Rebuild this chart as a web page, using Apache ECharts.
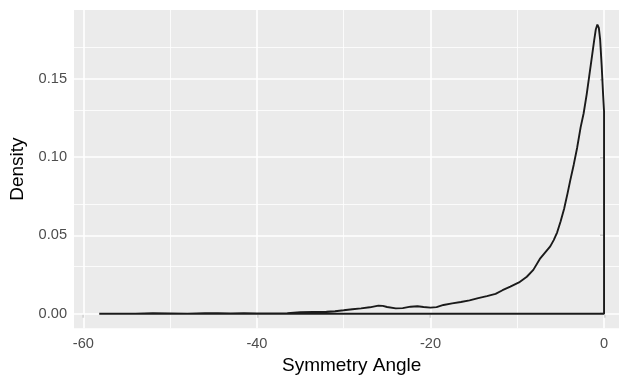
<!DOCTYPE html>
<html>
<head>
<meta charset="utf-8">
<script src="https://cdn.jsdelivr.net/npm/echarts@6/dist/echarts.min.js"></script>
<style>
html,body{margin:0;padding:0;background:#fff;overflow:hidden;}
#c{width:619px;height:377px;}
</style>
</head>
<body>
<div id="c"></div>
<script>
// Density curve (x = symmetry angle, y = density), outline closed along the baseline
const angle = [-58.17,-56,-54,-52,-50,-48,-46,-44.5,-43,-41.5,-40,-38,-36.5,-35,-33.5,-32,-31,-30,-29,-28,-27,-26,-25.5,-25,-24,-23.2,-22.3,-21.5,-20.8,-20,-19.3,-18.5,-17.5,-16.5,-15.5,-14.5,-13.5,-12.5,-11.7,-10.8,-9.8,-8.9,-8.15,-7.4,-6.8,-6.2,-5.8,-5.4,-5.0,-4.6,-4.2,-3.9,-3.5,-3.1,-2.7,-2.35,-2.0,-1.7,-1.4,-1.15,-0.95,-0.77,-0.6,-0.45,-0.27,-0.1,0,0,-58.17];
const density = [0,0.0001,0.0001,0.0003,0.0002,0.0001,0.0003,0.0003,0.0002,0.0003,0.0002,0.0002,0.0004,0.0009,0.0012,0.0013,0.0016,0.0022,0.0029,0.0034,0.0041,0.0052,0.0050,0.0043,0.0034,0.0036,0.0045,0.0048,0.0043,0.0039,0.0042,0.0056,0.0066,0.0075,0.0085,0.0100,0.0112,0.0127,0.0150,0.0173,0.0200,0.0236,0.0280,0.0350,0.0390,0.0430,0.0470,0.0520,0.0590,0.0670,0.0770,0.0850,0.0950,0.1060,0.1190,0.1280,0.1400,0.1520,0.1640,0.1740,0.1815,0.1846,0.1825,0.1750,0.1580,0.1390,0.1292,0,0];

const xTicks = [-60,-40,-20,0];
const xMinor = [-50,-30,-10];
const yTicks = [0,0.05,0.10,0.15];
const yMinor = [0.025,0.075,0.125,0.175];
const xRange = [-61.08, 2.91];
const yRange = [-0.0093, 0.1939];

const pts = angle.map((a,i)=>[a,density[i]]);

const chart = echarts.init(document.getElementById('c'), null, {renderer:'canvas'});
const FONT = '"Liberation Sans", Arial, sans-serif';

function gridMark(vals, key, w){
  return vals.map(v=>({[key]:v, lineStyle:{color:'#ffffff', width:w, type:'solid'}}));
}

chart.setOption({
  animation:false,
  backgroundColor:'#ffffff',
  grid:{left:74, top:10, width:555.3, height:318.3, show:true, backgroundColor:'#EBEBEB', borderWidth:0, containLabel:false, outerBoundsMode:'none'},
  xAxis:{
    type:'value', min:xRange[0], max:xRange[1],
    name:'Symmetry Angle', nameLocation:'middle', nameGap:25,
    nameTextStyle:{color:'#000', fontSize:19, fontFamily:FONT},
    axisLine:{show:false},
    axisTick:{show:true, length:4, customValues:xTicks, lineStyle:{color:'#333333', width:1.2}},
    axisLabel:{show:true, customValues:xTicks, margin:8, color:'#4D4D4D', fontSize:14.6, fontFamily:FONT, formatter:v=>String(v)},
    splitLine:{show:false}, minorSplitLine:{show:false}
  },
  yAxis:{
    type:'value', min:yRange[0], max:yRange[1],
    name:'Density', nameLocation:'middle', nameGap:41, nameRotate:90,
    nameTextStyle:{color:'#000', fontSize:19, fontFamily:FONT},
    axisLine:{show:false},
    axisTick:{show:true, length:4, customValues:yTicks, lineStyle:{color:'#333333', width:1.2}},
    axisLabel:{show:true, customValues:yTicks, margin:7, color:'#4D4D4D', fontSize:14.6, fontFamily:FONT, formatter:v=>v.toFixed(2)},
    splitLine:{show:false}, minorSplitLine:{show:false}
  },
  series:[
    {
      type:'line', data:[], z:1, silent:true,
      markLine:{
        z:1, zlevel:0,
        silent:true, symbol:'none', label:{show:false}, animation:false,
        emphasis:{disabled:true},
        data:[].concat(
          gridMark(xMinor,'xAxis',0.8),
          gridMark(yMinor,'yAxis',0.8),
          gridMark(xTicks,'xAxis',1.6),
          gridMark(yTicks,'yAxis',1.6)
        )
      }
    },
    {
      type:'line', data:pts, z:10, showSymbol:false, symbol:'none', smooth:false, clip:true,
      lineStyle:{color:'#1a1a1a', width:1.9}, silent:true
    }
  ]
});
</script>
</body>
</html>
